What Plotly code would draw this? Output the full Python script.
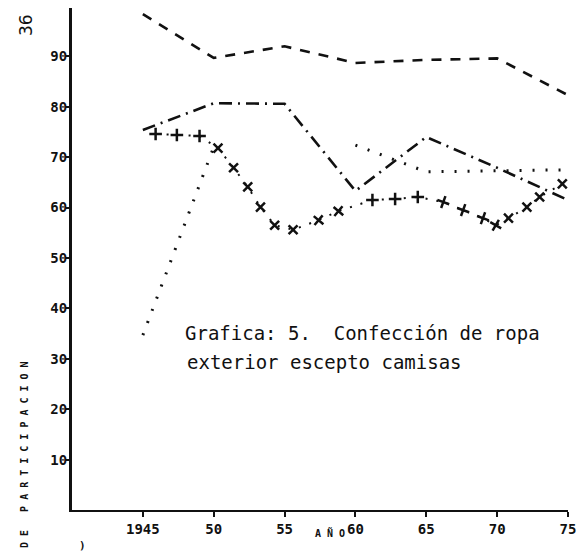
import plotly.graph_objects as go

# ---- data ----
years = [1945, 1950, 1955, 1960, 1965, 1970, 1975]
dashed_vals = [98.4, 89.7, 92.0, 88.7, 89.3, 89.6, 82.3]
dashdot_vals = [75.4, 80.7, 80.6, 63.3, 74.0, 67.9, 61.5]
dotted_vals = [34.7, 72.0, None, 72.4, 67.1, 67.3, 67.5]
cross_years = [1945.9, 1947.4, 1949.0, 1950.3, 1951.4, 1952.4, 1953.3, 1954.3,
               1955.6, 1957.4, 1958.8, 1961.2, 1962.8, 1964.4, 1966.2, 1967.6,
               1969.0, 1969.9, 1970.8, 1972.1, 1973.0, 1974.6]
cross_vals = [74.6, 74.4, 74.2, 71.8, 67.9, 64.1, 60.1, 56.5,
              55.6, 57.5, 59.3, 61.5, 61.7, 62.1, 61.1, 59.5,
              57.9, 56.5, 57.9, 60.1, 62.1, 64.7]
tick_years = [1945, 1950, 1955, 1960, 1965, 1970, 1975]
tick_text = ["1945", "50", "55", "60", "65", "70", "75"]
y_ticks = [10, 20, 30, 40, 50, 60, 70, 80, 90]

# marker rotation (style only)
cross_angles = [0, 0, 0, 45, 45, 45, 45, 45, 45, 40, 40, 0, 0, 0, 20, 20,
                20, 30, 45, 45, 45, 45]

INK = "#111111"
MONO = "DejaVu Sans Mono"

fig = go.Figure()
fig.add_trace(go.Scatter(x=years, y=dashed_vals, mode="lines",
                         line=dict(color=INK, width=2.6, dash="10px,9px"),
                         showlegend=False))
fig.add_trace(go.Scatter(x=years, y=dashdot_vals, mode="lines",
                         line=dict(color=INK, width=2.6, dash="13px,6px,2px,6px"),
                         showlegend=False))
fig.add_trace(go.Scatter(x=years, y=dotted_vals, mode="lines", connectgaps=False,
                         line=dict(color=INK, width=3, dash="2px,11px"),
                         showlegend=False))
fig.add_trace(go.Scatter(x=cross_years, y=cross_vals, mode="lines+markers",
                         line=dict(color=INK, width=2, dash="2px,9px"),
                         marker=dict(symbol="cross-thin", size=9, angle=cross_angles,
                                     line=dict(color=INK, width=2.5)),
                         showlegend=False))

# the page body adds an 8px offset; work in page pixels and shift
OFF = 8
W, H = 588 - OFF, 557 - OFF
PL, PR, PT, PB = 72 - OFF, 568 - OFF, 8 - OFF, 510 - OFF

def px(x):
    return (x - OFF - PL) / (PR - PL)

def py(y):
    return (PB - (y - OFF)) / (PB - PT)

annotations = [
    dict(text="Grafica: 5.  Confección de ropa", x=px(183), y=py(333),
         xanchor="left", yanchor="middle", font=dict(family=MONO, size=19, color=INK)),
    dict(text="exterior escepto camisas", x=px(185), y=py(362),
         xanchor="left", yanchor="middle", font=dict(family=MONO, size=19, color=INK)),
    dict(text="36", x=px(26), y=py(25), textangle=-90,
         xanchor="center", yanchor="middle", font=dict(family="DejaVu Sans", size=17, color=INK)),
    dict(text="D E   P A R T I C I P A C I O N", x=px(24), y=py(455), textangle=-90,
         xanchor="center", yanchor="middle",
         font=dict(family=MONO, size=10, color=INK, weight="bold")),
    dict(text="A Ñ O", x=px(330), y=py(533),
         xanchor="center", yanchor="middle",
         font=dict(family=MONO, size=10, color=INK, weight="bold")),
    dict(text=")", x=px(82), y=py(545),
         xanchor="center", yanchor="middle",
         font=dict(family=MONO, size=11, color=INK, weight="bold")),
]
for a in annotations:
    a.update(xref="paper", yref="paper", showarrow=False)

fig.update_layout(
    width=W, height=H, autosize=False,
    margin=dict(l=PL, r=W - PR, t=PT, b=H - PB, pad=0),
    paper_bgcolor="white", plot_bgcolor="white",
    annotations=annotations,
    xaxis=dict(range=[1940, 1975], showgrid=False, zeroline=False,
               showline=True, linecolor=INK, linewidth=2.2,
               ticks="outside", ticklen=5, tickwidth=2, tickcolor=INK,
               tickvals=tick_years, ticktext=tick_text, ticklabelstandoff=0,
               tickfont=dict(family=MONO, size=14, color=INK, weight="bold")),
    yaxis=dict(range=[0, 99.6], showgrid=False, zeroline=False,
               showline=True, linecolor=INK, linewidth=3,
               ticks="outside", ticklen=3, tickwidth=2, tickcolor=INK,
               tickvals=y_ticks, ticklabelstandoff=-4,
               tickfont=dict(family=MONO, size=14, color=INK, weight="bold")),
)

fig.write_html("out.html")
